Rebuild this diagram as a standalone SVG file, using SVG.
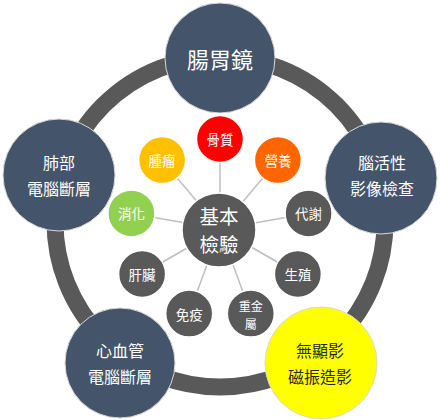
<svg xmlns="http://www.w3.org/2000/svg" width="440" height="420" viewBox="0 0 440 420">
<style>
text{font-family:"Noto Sans CJK TC","Noto Sans CJK SC",sans-serif;text-anchor:middle;dominant-baseline:central;fill:#ffffff}
.big{fill:#44546a;stroke:#d9d9d9;stroke-width:1}
.sm{stroke:#ffffff;stroke-width:1.5}
.dk{fill:#595959}
.bt{font-size:16px}
.st{font-size:13.5px}
.conn line{stroke:#bfbfbf;stroke-width:1.5}
</style>
<rect width="440" height="420" fill="#ffffff"/>
<circle id="ring" cx="220" cy="222" r="165" fill="none" stroke="#595959" stroke-width="17"/>
<g class="conn">
<line x1="220" y1="229" x2="220" y2="139"/>
<line x1="220" y1="229" x2="277.9" y2="160.1"/>
<line x1="220" y1="229" x2="308.6" y2="213.4"/>
<line x1="220" y1="229" x2="297.9" y2="274"/>
<line x1="220" y1="229" x2="250.8" y2="313.6"/>
<line x1="220" y1="229" x2="189.2" y2="313.6"/>
<line x1="220" y1="229" x2="142.1" y2="274"/>
<line x1="220" y1="229" x2="131.4" y2="213.4"/>
<line x1="220" y1="229" x2="162.1" y2="160.1"/>
</g>
<g id="n-top"><circle class="big" cx="220" cy="58" r="55"/><text x="220" y="58" style="font-size:22px">腸胃鏡</text></g>
<g id="n-left"><circle class="big" cx="59" cy="175" r="56"/><text class="bt" x="59" y="162">肺部</text><text class="bt" x="59" y="188">電腦斷層</text></g>
<g id="n-right"><circle class="big" cx="381" cy="178" r="56"/><text class="bt" x="382" y="162">腦活性</text><text class="bt" x="382" y="188">影像檢查</text></g>
<g id="n-bl"><circle class="big" cx="120" cy="363" r="55"/><text class="bt" x="120" y="350">心血管</text><text class="bt" x="120" y="376">電腦斷層</text></g>
<g id="n-br"><circle cx="321" cy="363" r="56" fill="#ffff00" stroke="#d9d9d9" stroke-width="1"/><text class="bt" x="320" y="350" style="fill:#262626">無顯影</text><text class="bt" x="320" y="376" style="fill:#262626">磁振造影</text></g>
<g id="n-center"><circle class="dk" cx="219" cy="230" r="37" stroke="#ffffff" stroke-width="1.5"/><text x="219" y="215" style="font-size:19.5px">基本</text><text x="219" y="243" style="font-size:19.5px">檢驗</text></g>
<g id="s1"><circle class="sm" cx="220" cy="139" r="23.5" fill="#ff0000"/><text class="st" x="220" y="139">骨質</text></g>
<g id="s2"><circle class="sm" cx="277.9" cy="160.1" r="23.5" fill="#ff6600"/><text class="st" x="277.9" y="160.1">營養</text></g>
<g id="s3"><circle class="sm dk" cx="308.6" cy="213.4" r="23.5"/><text class="st" x="308.6" y="213.4">代謝</text></g>
<g id="s4"><circle class="sm dk" cx="297.9" cy="274" r="23.5"/><text class="st" x="297.9" y="274">生殖</text></g>
<g id="s5"><circle class="sm dk" cx="250.8" cy="313.6" r="23.5"/><text x="250.8" y="305" style="font-size:12px">重金</text><text x="250.8" y="323" style="font-size:12px">屬</text></g>
<g id="s6"><circle class="sm dk" cx="189.2" cy="313.6" r="23.5"/><text class="st" x="189.2" y="313.6">免疫</text></g>
<g id="s7"><circle class="sm dk" cx="142.1" cy="274" r="23.5"/><text class="st" x="142.1" y="274">肝臟</text></g>
<g id="s8"><circle class="sm" cx="131.4" cy="213.4" r="23.5" fill="#92d050"/><text class="st" x="131.4" y="213.4">消化</text></g>
<g id="s9"><circle class="sm" cx="162.1" cy="160.1" r="23.5" fill="#ffc000"/><text class="st" x="162.1" y="160.1">腫瘤</text></g>
</svg>
